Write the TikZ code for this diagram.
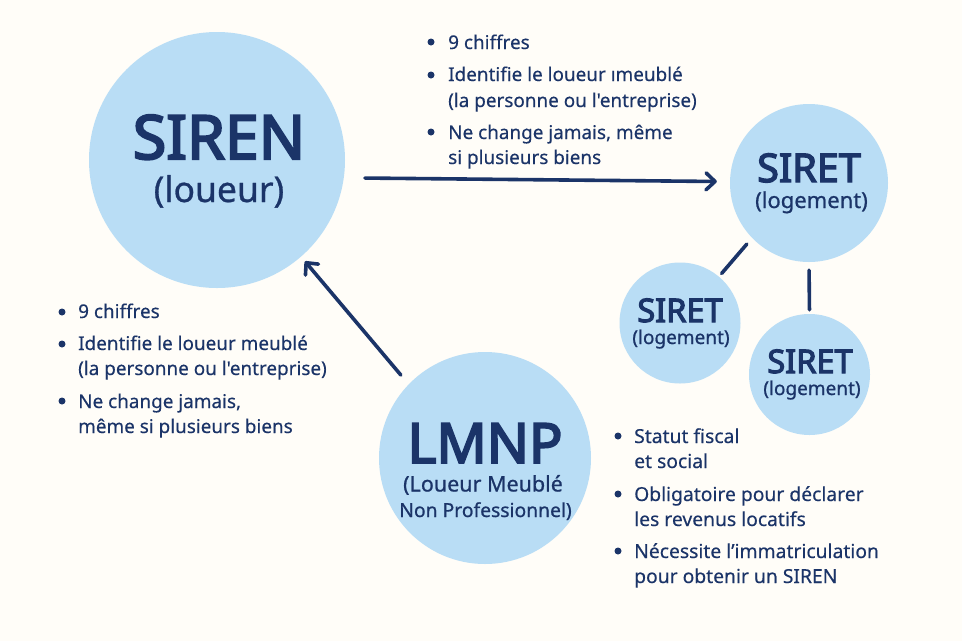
\documentclass[tikz,border=0pt]{standalone}
\usepackage{fontspec}
\newfontfamily\bodyfont{Noto Sans}[FakeBold=0.3]
\newfontfamily\subfont{Noto Sans}[FakeBold=0.8]
\newfontfamily\titlefont{Noto Sans}[FakeBold=3.5]
\usetikzlibrary{arrows.meta}
\definecolor{bgc}{HTML}{FFFDF8}
\definecolor{circ}{HTML}{B9DDF5}
\definecolor{ink}{HTML}{1B3468}
\tikzset{
  bub/.style={circle,fill=circ,inner sep=0pt,minimum size=#1,align=center,text=ink},
  title/.style={anchor=base,inner sep=0pt,text=ink,font=\titlefont\fontsize{#1}{#1}\selectfont},
  sub/.style={anchor=base,inner sep=0pt,text=ink,font=\subfont\fontsize{#1}{#1}\selectfont},
  linetxt/.style={anchor=base west,inner sep=0pt,text=ink,font=\bodyfont\fontsize{18.9}{18.9}\selectfont},
  linetxtb/.style={anchor=base west,inner sep=0pt,text=ink,font=\bodyfont\fontsize{19.3}{19.3}\selectfont},
  dot/.style={circle,fill=ink,inner sep=0pt,minimum size=7pt},
  conn/.style={draw=ink,line width=3.6pt,line cap=round},
  head/.style={-{Straight Barb[round,length=9pt,width=17pt,line width=3.6pt]}}
}
\begin{document}
\begin{tikzpicture}[x=1pt,y=-1pt]
\useasboundingbox (0,0) rectangle (962,641);
\fill[bgc] (0,0) rectangle (962,641);
\node[bub=256pt] (siren) at (217,160) {};
\node[bub=158pt] (siretA) at (809,183) {};
\node[bub=121pt] (siretB) at (680,323) {};
\node[bub=121pt] (siretC) at (809.5,374.5) {};
\node[bub=212pt] (lmnp) at (485,458) {};
\node[title=61] (t1) at (219,159) {SIREN};
\node[sub=35.5] (t2) at (219,202) {(loueur)};
\node[title=39.5] (t3) at (809,182) {SIRET};
\node[sub=22] (t4) at (811.5,208) {(logement)};
\node[title=32.5] (t5) at (680,322) {SIRET};
\node[sub=19] (t6) at (681,344) {(logement)};
\node[title=32.5] (t7) at (810,373) {SIRET};
\node[sub=19] (t8) at (812,395) {(logement)};
\node[title=55.5] (t9) at (485,463) {LMNP};
\node[sub=21.5] (t10) at (483,491.5) {(Loueur Meublé};
\node[sub=19.3] (t11) at (485.5,517) {Non Professionnel)};
\draw[conn,head,shorten <=21pt,shorten >=13pt] (siren.-8) -- (siretA.179);
\draw[conn,head,shorten <=12pt,shorten >=6pt] (lmnp.136.7) -- (siren.-49.5);
\draw[conn,shorten <=8pt,shorten >=4pt] (siretA.-136) -- (siretB.50);
\draw[conn,shorten <=8pt,shorten >=4pt] (siretA.south) -- (siretC.north);
% top block
\node[dot] (d1) at (431,42) {};
\node[linetxt] (a1) at (448,49) {9 chiffres};
\node[dot] (d2) at (431,75) {};
\node[linetxt] (a2) at (448,81) {Identifie le loueur ımeublé};
\node[linetxt] (a3) at (448,107) {(la personne ou l'entreprise)};
\node[dot] (d3) at (431,132) {};
\node[linetxt] (a4) at (448,139) {Ne change jamais, même};
\node[linetxt] (a5) at (448,164) {si plusieurs biens};
% left block
\node[dot] (d4) at (62,312) {};
\node[linetxt] (b1) at (78,318) {9 chiffres};
\node[dot] (d5) at (62,344) {};
\node[linetxt] (b2) at (78,350) {Identifie le loueur meublé};
\node[linetxt] (b3) at (78,375) {(la personne ou l'entreprise)};
\node[dot] (d6) at (62,401) {};
\node[linetxt] (b4) at (78,408) {Ne change jamais,};
\node[linetxt] (b5) at (78,433) {même si plusieurs biens};
% right block
\node[dot] (d7) at (618,436) {};
\node[linetxtb] (c1) at (634,443) {Statut fiscal};
\node[linetxtb] (c2) at (634,468) {et social};
\node[dot] (d8) at (618,494) {};
\node[linetxtb] (c3) at (634,501) {Obligatoire pour déclarer};
\node[linetxtb] (c4) at (634,526) {les revenus locatifs};
\node[dot] (d9) at (618,551) {};
\node[linetxtb] (c5) at (634,558) {Nécessite l’immatriculation};
\node[linetxtb] (c6) at (634,583) {pour obtenir un SIREN};
\end{tikzpicture}
\end{document}
